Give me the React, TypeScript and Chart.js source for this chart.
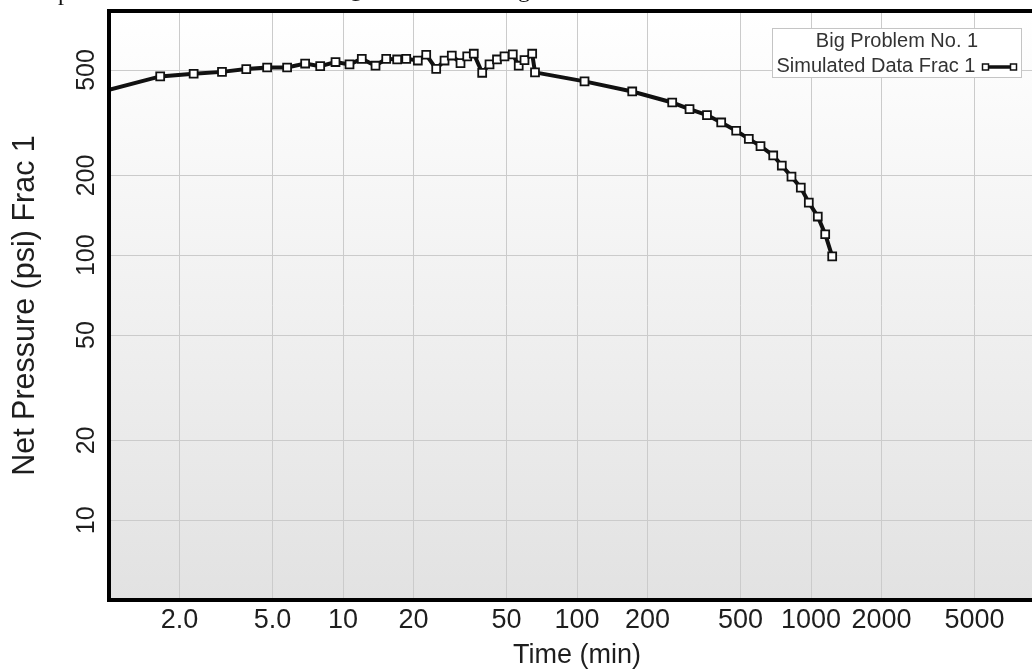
import React, { useEffect, useRef } from 'react';
import { Chart, registerables } from 'chart.js';

Chart.register(...registerables);

// ---- data ----
const timeMin = [
  1.0, 1.655, 2.3, 3.04, 3.86, 4.74, 5.77, 6.89, 7.99, 9.29,
  10.66, 12.03, 13.77, 15.3, 17.04, 18.63, 20.88, 22.68, 25.02, 27.16,
  29.17, 31.78, 33.95, 36.22, 39.34, 42.28, 45.51, 48.99, 53.16, 56.35,
  59.65, 64.34, 66.15, 107.7, 172.2, 255.2, 302.6, 359.3, 413.3, 478.9,
  542.3, 608.4, 689.5, 750.3, 825.2, 904.5, 978.6, 1069, 1150, 1232,
];
const netPressure = [
  421, 473, 484, 492, 504, 511, 511, 529, 517, 536,
  525, 551, 519, 551, 548, 551, 543, 571, 505, 543,
  567, 531, 563, 576, 488, 525, 548, 563, 573, 519,
  545, 576, 490, 453, 415, 377, 356, 338, 317, 295,
  275, 258, 238, 218, 198, 180, 158, 140, 120, 99,
];

const xTickValues = [2, 5, 10, 20, 50, 100, 200, 500, 1000, 2000, 5000];
const xTickLabels = ['2.0', '5.0', '10', '20', '50', '100', '200', '500', '1000', '2000', '5000'];
const yTickValues = [10, 20, 50, 100, 200, 500];
const yTickLabels = ['10', '20', '50', '100', '200', '500'];

const xRange = [1, 10000];
const yRange = [5, 835];

const seriesLabel = 'Simulated Data Frac 1';
const legendTitle = 'Big Problem No. 1';
const xTitle = 'Time (min)';
const yTitle = 'Net Pressure (psi) Frac 1';

// descenders of the cut-off document line above the figure
const clippedGlyphs = [
  { ch: 'p', left: 58, top: -20 },
  { ch: 'g', left: 350, top: -24 },
  { ch: 'g', left: 518, top: -23 },
];

const FONT = "'Liberation Sans', Arial, sans-serif";
const SERIF = "'Liberation Serif', 'Times New Roman', serif";

const framePlugin = {
  id: 'frameAndLegend',
  beforeDraw(chart: any) {
    const { ctx, chartArea: a } = chart;
    const g = ctx.createLinearGradient(0, a.top, 0, a.bottom);
    g.addColorStop(0, '#ffffff');
    g.addColorStop(1, '#e2e2e2');
    ctx.save();
    ctx.fillStyle = g;
    ctx.fillRect(a.left, a.top, a.right - a.left, a.bottom - a.top);
    ctx.restore();
  },
  afterDraw(chart: any) {
    const { ctx, chartArea: a } = chart;
    ctx.save();
    // heavy frame
    ctx.strokeStyle = '#000';
    ctx.lineWidth = 4;
    ctx.strokeRect(a.left, a.top, a.right - a.left, a.bottom - a.top);

    // legend box inside plot (top-right)
    const bw = 249;
    const bh = 49;
    const bx = a.right - 272.5;
    const by = a.top + 17.5;
    ctx.fillStyle = '#ffffff';
    ctx.fillRect(bx, by, bw, bh);
    ctx.strokeStyle = '#c4c4c4';
    ctx.lineWidth = 1;
    ctx.strokeRect(bx, by, bw, bh);

    ctx.fillStyle = '#333333';
    ctx.font = `20px ${FONT}`;
    ctx.textBaseline = 'alphabetic';
    ctx.textAlign = 'center';
    ctx.fillText(legendTitle, bx + bw / 2, by + 18.5);
    ctx.textAlign = 'left';
    ctx.fillText(seriesLabel, bx + 4, by + 43.5);

    // legend sample: line with square markers
    const ly = by + 38.5;
    const lx0 = bx + 212;
    const lx1 = bx + 242;
    ctx.strokeStyle = '#111';
    ctx.lineWidth = 3.5;
    ctx.beginPath();
    ctx.moveTo(lx0, ly);
    ctx.lineTo(lx1, ly);
    ctx.stroke();
    ctx.lineWidth = 1.5;
    for (const px of [lx0 + 1, lx1 - 1]) {
      ctx.fillStyle = '#fff';
      ctx.fillRect(px - 3, ly - 3, 6, 6);
      ctx.strokeRect(px - 3, ly - 3, 6, 6);
    }
    ctx.restore();
  },
};

export default function App() {
  const ref = useRef<HTMLCanvasElement | null>(null);

  useEffect(() => {
    if (!ref.current) return;
    const chart = new Chart(ref.current, {
      type: 'line',
      data: {
        datasets: [
          {
            label: seriesLabel,
            data: timeMin.map((t, i) => ({ x: t, y: netPressure[i] })),
            borderColor: '#111',
            borderWidth: 4,
            tension: 0,
            fill: false,
            pointStyle: 'rect',
            pointRadius: (c: any) => (c.dataIndex === 0 ? 0 : 5.6),
            pointBackgroundColor: '#ffffff',
            pointBorderColor: '#111',
            pointBorderWidth: 1.8,
          },
        ],
      },
      options: {
        responsive: false,
        animation: false,
        layout: { autoPadding: false, padding: { left: 0, right: 0, top: 11, bottom: 0 } },
        plugins: {
          legend: { display: false },
          tooltip: { enabled: false },
        },
        scales: {
          x: {
            type: 'logarithmic',
            position: 'bottom',
            min: xRange[0],
            max: xRange[1],
            afterBuildTicks: (s: any) => {
              s.ticks = xTickValues.map((v) => ({ value: v }));
            },
            afterFit: (s: any) => {
              s.height = 72;
              s.paddingLeft = 0;
              s.paddingRight = 0;
            },
            grid: { color: '#cbcbcb', lineWidth: 1, drawTicks: false },
            border: { display: false },
            ticks: {
              autoSkip: false,
              minRotation: 0,
              maxRotation: 0,
              padding: 4,
              color: '#1e1e1e',
              font: { family: FONT, size: 27 },
              callback: (_v: any, i: number) => xTickLabels[i],
            },
            title: {
              display: true,
              text: xTitle,
              color: '#1e1e1e',
              font: { family: FONT, size: 27 },
              padding: { top: 0, bottom: 0 },
            },
          },
          y: {
            type: 'logarithmic',
            min: yRange[0],
            max: yRange[1],
            afterBuildTicks: (s: any) => {
              s.ticks = yTickValues.map((v) => ({ value: v }));
            },
            afterFit: (s: any) => {
              s.width = 109;
              s.paddingTop = 0;
              s.paddingBottom = 0;
            },
            grid: { color: '#cbcbcb', lineWidth: 1, drawTicks: false },
            border: { display: false },
            ticks: {
              minRotation: 90,
              maxRotation: 90,
              crossAlign: 'center',
              padding: 1,
              color: '#1e1e1e',
              font: { family: FONT, size: 25 },
              callback: (_v: any, i: number) => yTickLabels[i],
            },
            title: {
              display: true,
              text: yTitle,
              color: '#1e1e1e',
              font: { family: FONT, size: 30.5 },
              padding: { top: 7, bottom: 0 },
            },
          },
        },
      } as any,
      plugins: [framePlugin],
    });
    return () => chart.destroy();
  }, []);

  return (
    <div
      style={{
        position: 'fixed',
        left: 0,
        top: 0,
        width: 1032,
        height: 669,
        overflow: 'hidden',
        background: '#ffffff',
      }}
    >
      <canvas ref={ref} width={1045} height={672} style={{ display: 'block' }} />
      {clippedGlyphs.map((g, i) => (
        <span
          key={i}
          style={{
            position: 'absolute',
            left: g.left,
            top: g.top,
            fontFamily: SERIF,
            fontSize: 24,
            lineHeight: 1,
            color: '#111',
          }}
        >
          {g.ch}
        </span>
      ))}
    </div>
  );
}
